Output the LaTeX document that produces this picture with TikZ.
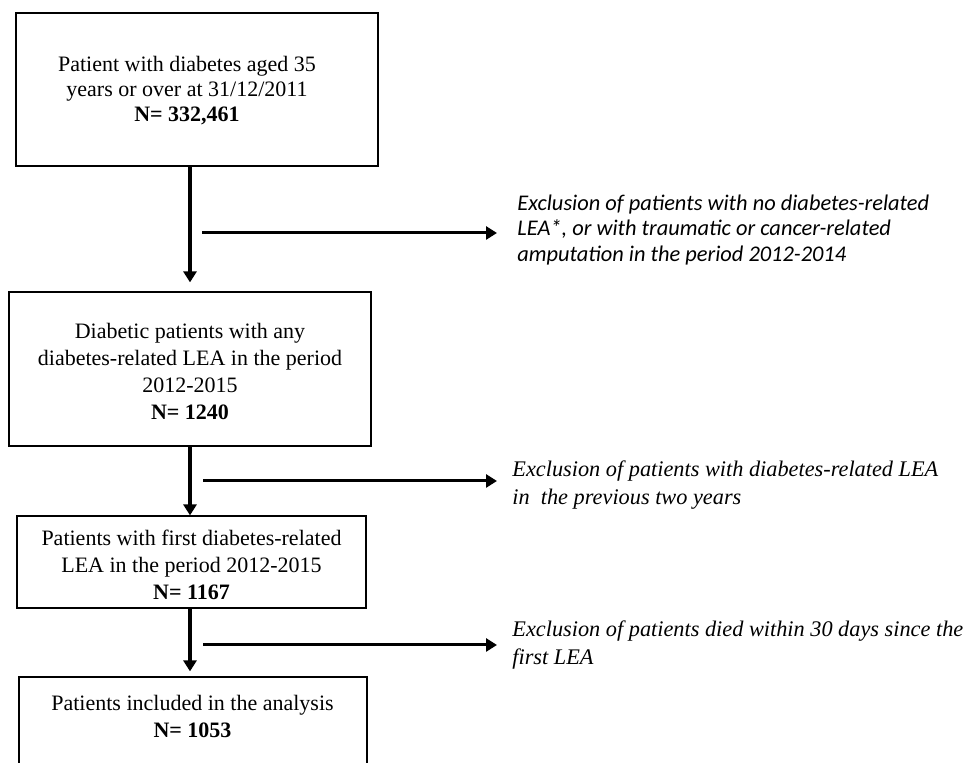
\documentclass[tikz,border=0pt]{standalone}
\usepackage{fontspec}
\setmainfont{Liberation Serif}
\newfontfamily\calibrifont{Carlito}
\usetikzlibrary{arrows.meta,positioning}

\tikzset{
  frame/.style={draw,line width=0.6pt,inner sep=0pt},
  boxtext/.style={align=center,inner sep=0pt,font=\fontsize{11}{13.5}\selectfont},
  excltext/.style={align=left,inner sep=0pt,font=\fontsize{11.15}{13.75}\selectfont\itshape},
  flow/.style={line width=1.7pt,-{Triangle[length=5.5pt,width=6.5pt]}}
}

\begin{document}
\begin{tikzpicture}[x=0.5pt,y=-0.5pt]
\useasboundingbox (0,0) rectangle (966,763);
\clip (0,0) rectangle (966,763);

% frames
\node[frame,minimum width=181pt,minimum height=76.5pt] (b1) at (197,89.5) {};
\node[frame,minimum width=181pt,minimum height=77pt] (b2) at (190,369) {};
\node[frame,minimum width=174.5pt,minimum height=46pt] (b3) at (191.5,562) {};
\node[frame,minimum width=174pt,minimum height=55pt] (b4) at (193,732) {};

% box texts
\node[boxtext,font=\fontsize{11}{12.5}\selectfont] (t1) at (187,91)
  {Patient with diabetes aged 35\\ years or over at 31/12/2011\\ \textbf{N= 332,461}};
\node[boxtext] (t2) at (190,371)
  {Diabetic patients with any\\ diabetes-related LEA in the period\\ 2012-2015\\ \textbf{N= 1240}};
\node[boxtext] (t3) at (191.5,565)
  {Patients with first diabetes-related\\ LEA in the period 2012-2015\\ \textbf{N= 1167}};
\node[boxtext] (t4) at (192.5,716)
  {Patients included in the analysis\\ \textbf{N= 1053}};

% main flow
\draw[flow,shorten >=4.5pt] (b1.south -| b2.south) -- (b2.north);
\draw[flow] (b2.south) -- (b2.south |- b3.north);
\draw[flow,shorten >=2.5pt] (b3.south -| b2.south) -- (b2.south |- b4.north);

% exclusions
\coordinate (s1) at (202,233);
\coordinate (f1) at (497,233);
\coordinate (s2) at (203,481);
\coordinate (f2) at (497,481);
\coordinate (s3) at (203,645);
\coordinate (f3) at (497,645);
\foreach \i in {1,2,3} {
\draw[flow,line width=1.5pt] (s\i) -- (f\i);
}

\node[excltext,font=\calibrifont\fontsize{11.2}{12.75}\selectfont\itshape,right=10pt of f1,yshift=1.5pt] (e1)
  {Exclusion of patients with no diabetes-related\\ LEA*, or with traumatic or cancer-related\\ amputation in the period 2012-2014};
\node[excltext,right=7.5pt of f2,yshift=-2pt] (e2)
  {Exclusion of patients with diabetes-related LEA\\ in\ \ the previous two years};
\node[excltext,right=7.5pt of f3] (e3)
  {Exclusion of patients died within 30 days since the\\ first LEA};
\end{tikzpicture}
\end{document}
